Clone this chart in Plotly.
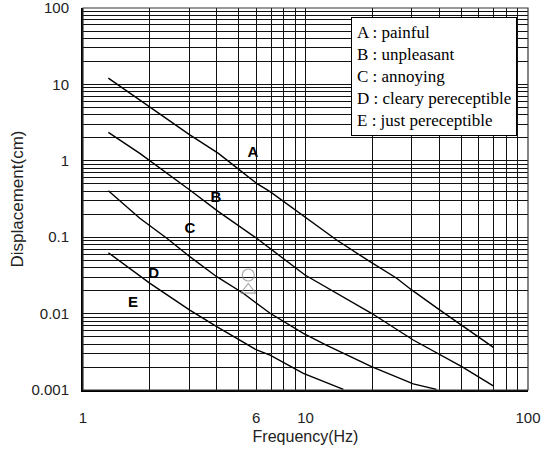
import plotly.graph_objects as go

# Curve data (frequency Hz, displacement cm)
A_f = [1.30, 2.42, 3.02, 4.06, 6.03, 6.93, 9.95, 13.8, 19.5, 25.7, 30.0, 40.2, 69.9]
A_d = [12.1, 3.42, 2.18, 1.25, 0.507, 0.394, 0.185, 0.0918, 0.0478, 0.029, 0.0204, 0.0111, 0.00362]
B_f = [1.30, 1.80, 3.02, 4.06, 6.03, 6.93, 7.95, 9.95, 19.8, 30.5, 50.4, 69.8]
B_d = [2.36, 1.25, 0.415, 0.216, 0.0968, 0.0716, 0.053, 0.032, 0.0101, 0.00451, 0.00202, 0.00113]
C_f = [1.30, 1.80, 2.38, 3.02, 3.99, 5.25, 6.93, 9.78, 12.4, 19.8, 30.5, 38.8]
C_d = [0.406, 0.177, 0.0968, 0.0556, 0.0304, 0.01845, 0.0101, 0.00552, 0.00388, 0.00202, 0.0012, 0.00102]
D_f = [1.30, 2.0, 3.02, 3.99, 6.03, 6.93, 9.78, 14.8]
D_d = [0.0627, 0.0249, 0.0111, 0.00674, 0.00334, 0.00287, 0.00165, 0.00102]

# Curve labels
label_text = ["A", "B", "C", "D", "E"]
label_f = [5.81, 3.96, 3.02, 2.08, 1.68]
label_d = [1.26, 0.326, 0.128, 0.033, 0.0138]

# Person icon (head + body)
icon_f = [5.53, 5.53]
icon_d = [0.032, 0.0204]
icon_symbol = ["circle-open", "triangle-up-open"]

legend_lines = ["A : painful", "B : unpleasant", "C : annoying",
                "D : cleary pereceptible", "E : just pereceptible"]

x_ticks = [1, 6, 10, 100]
y_ticks = [0.001, 0.01, 0.1, 1, 10, 100]
y_ticklabels = ["0.001", "0.01", "0.1", "1", "10", "100"]

x_minor = [m * 10 ** e for e in range(0, 2) for m in range(2, 10)]
y_minor = [m * 10.0 ** e for e in range(-3, 2) for m in range(2, 10)]

fig = go.Figure()
for fs, ds in [(A_f, A_d), (B_f, B_d), (C_f, C_d), (D_f, D_d)]:
    fig.add_trace(go.Scatter(x=fs, y=ds, mode="lines",
                             line=dict(color="black", width=1.4),
                             showlegend=False, hoverinfo="skip"))

fig.add_trace(go.Scatter(x=icon_f, y=icon_d, mode="markers",
                         marker=dict(symbol=icon_symbol, size=[12, 13],
                                     color="#888888", line=dict(color="#888888", width=1.2)),
                         showlegend=False, hoverinfo="skip"))

fig.add_trace(go.Scatter(x=label_f, y=label_d, mode="text", text=label_text,
                         textfont=dict(family="Liberation Sans Narrow, Liberation Sans, Arial",
                                       size=15, color="black", weight="bold"),
                         showlegend=False, hoverinfo="skip"))

fig.add_annotation(xref="paper", yref="paper", x=0.603, y=0.976,
                   xanchor="left", yanchor="top", align="left",
                   text="<br>".join(legend_lines), showarrow=False,
                   font=dict(family="Liberation Serif, Times New Roman, serif", size=17, color="black"),
                   bgcolor="white", bordercolor="black", borderwidth=1, borderpad=5)

axis_font = dict(family="Liberation Sans, Arial, sans-serif", size=15, color="#222222")

fig.update_xaxes(type="log", range=[0, 2], tickmode="array", tickvals=x_ticks,
                 ticktext=[str(v) for v in x_ticks], tickfont=axis_font,
                 showgrid=True, gridcolor="#111111", gridwidth=1,
                 minor=dict(tickmode="array", tickvals=x_minor, showgrid=True,
                            gridcolor="#111111", gridwidth=1, ticks=""),
                 showline=True, linecolor="black", linewidth=2, mirror=False,
                 ticks="", ticklabelstandoff=13, ticklabeloverflow="allow",
                 automargin=False,
                 title=dict(text="Frequency(Hz)", font=dict(family="Liberation Sans, Arial", size=16, color="#222222"),
                            standoff=6),
                 zeroline=False)
fig.update_yaxes(type="log", range=[-3, 2], tickmode="array", tickvals=y_ticks,
                 ticktext=y_ticklabels, tickfont=axis_font,
                 showgrid=True, gridcolor="#111111", gridwidth=1,
                 minor=dict(tickmode="array", tickvals=y_minor, showgrid=True,
                            gridcolor="#111111", gridwidth=1, ticks=""),
                 showline=True, linecolor="black", linewidth=2, mirror=False,
                 ticks="", ticklabelstandoff=9, ticklabeloverflow="allow",
                 automargin=False,
                 title=dict(text="Displacement(cm)", font=dict(family="Liberation Sans, Arial", size=17, color="#222222"),
                            standoff=4),
                 zeroline=False)

# thin frame on top/right
fig.add_shape(type="rect", xref="paper", yref="paper", x0=0, y0=0, x1=1, y1=1,
              line=dict(color="#333333", width=1.2), layer="above")

fig.update_layout(width=550, height=460, margin=dict(l=83, r=22, t=8, b=70, autoexpand=False),
                  plot_bgcolor="white", paper_bgcolor="white")

fig.write_html("out.html")
